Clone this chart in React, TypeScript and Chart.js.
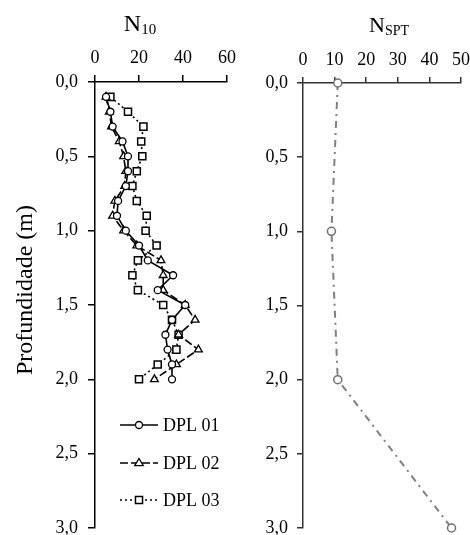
import React, { useEffect, useRef } from 'react';
import { Chart, registerables } from 'chart.js';
Chart.register(...registerables);

// ---- data ----
const depths = [0.1, 0.2, 0.3, 0.4, 0.5, 0.6, 0.7, 0.8, 0.9, 1.0, 1.1, 1.2, 1.3, 1.4, 1.5, 1.6, 1.7, 1.8, 1.9, 2.0];
const dpl01 = [5, 7, 8, 12.5, 15, 15, 14, 10.5, 10, 14, 20, 24, 35.5, 28.5, 41, 35, 32, 33, 35, 35];
const dpl02 = [5, 6.5, 7.5, 11, 13, 14, 13.5, 9, 8, 13, 19, 30, 31, 31, 41, 45.5, 38, 47, 37, 27];
const dpl03 = [7, 15, 22, 21, 21.5, 19, 17, 19, 23.5, 23, 28, 19.5, 17, 19.5, 31, 35, 38, 37, 28.5, 20];
const sptDepths = [0, 1, 2, 3];
const nspt = [11, 9, 11, 47];
const legendLabels = ['DPL 01', 'DPL 02', 'DPL 03'];
const yTitle = 'Profundidade (m)';

const FONT = "'Liberation Serif', 'Times New Roman', serif";

const fmtDepth = (v: any) => Number(v).toFixed(1).replace('.', ',');

function pts(xs: number[], ys: number[]) {
  return xs.map((x, i) => ({ x, y: ys[i] }));
}

function subTitlePlugin(main: string, sub: string, mainSize: number, subSize: number, cx: number, baseline: number) {
  return {
    id: 'subTitle',
    afterDraw(chart: any) {
      const ctx = chart.ctx;
      ctx.save();
      ctx.fillStyle = '#000';
      ctx.textBaseline = 'alphabetic';
      ctx.textAlign = 'left';
      ctx.font = `${mainSize}px ${FONT}`;
      const w1 = ctx.measureText(main).width;
      ctx.font = `${subSize}px ${FONT}`;
      const w2 = ctx.measureText(sub).width;
      const x0 = cx - (w1 + w2) / 2;
      ctx.font = `${mainSize}px ${FONT}`;
      ctx.fillText(main, x0, baseline);
      ctx.font = `${subSize}px ${FONT}`;
      ctx.fillText(sub, x0 + w1, baseline + 3);
      ctx.restore();
    },
  };
}

function drawMarker(ctx: CanvasRenderingContext2D, style: string, x: number, y: number, r: number) {
  ctx.beginPath();
  if (style === 'circle') {
    ctx.arc(x, y, r, 0, Math.PI * 2);
  } else if (style === 'triangle') {
    ctx.moveTo(x, y - r);
    ctx.lineTo(x + r * 0.95, y + r * 0.6);
    ctx.lineTo(x - r * 0.95, y + r * 0.6);
    ctx.closePath();
  } else {
    const s = r * Math.SQRT1_2;
    ctx.rect(x - s, y - s, 2 * s, 2 * s);
  }
  ctx.fillStyle = '#fff';
  ctx.fill();
  ctx.stroke();
}

const legendPlugin = {
  id: 'customLegend',
  afterDraw(chart: any) {
    const ctx = chart.ctx;
    const rows = [425, 463, 500];
    ctx.save();
    chart.data.datasets.forEach((ds: any, i: number) => {
      const y = rows[i];
      ctx.strokeStyle = '#000';
      ctx.lineWidth = ds.borderWidth;
      ctx.setLineDash(ds.borderDash || []);
      ctx.beginPath();
      ctx.moveTo(120, y);
      ctx.lineTo(158, y);
      ctx.stroke();
      ctx.setLineDash([]);
      ctx.lineWidth = ds.pointBorderWidth;
      drawMarker(ctx, ds.pointStyle, 139, y, ds.pointRadius);
      ctx.fillStyle = '#000';
      ctx.font = `18px ${FONT}`;
      ctx.textBaseline = 'middle';
      ctx.textAlign = 'left';
      ctx.fillText(legendLabels[i], 163, y + 1);
    });
    ctx.restore();
  },
};

const yTitlePlugin = {
  id: 'yTitle',
  afterDraw(chart: any) {
    const ctx = chart.ctx;
    ctx.save();
    ctx.translate(26, 290);
    ctx.rotate(-Math.PI / 2);
    ctx.fillStyle = '#000';
    ctx.font = `24px ${FONT}`;
    ctx.textAlign = 'center';
    ctx.textBaseline = 'middle';
    ctx.fillText(yTitle, 0, 0);
    ctx.restore();
  },
};

function axisCommon(tickLength: number, color: string) {
  return {
    grid: { display: true, drawOnChartArea: false, drawTicks: true, tickLength, color, lineWidth: 1.5 },
    border: { display: true, color, width: 1.5 },
  };
}

const fitY = (w: number) => (s: any) => {
  s.width = w;
  s.paddingTop = 0;
  s.paddingBottom = 0;
};
const fitX = (h: number) => (s: any) => {
  s.height = h;
  s.paddingLeft = 0;
  s.paddingRight = 0;
};

export default function App() {
  const leftRef = useRef<HTMLCanvasElement>(null);
  const rightRef = useRef<HTMLCanvasElement>(null);

  useEffect(() => {
    const left = new Chart(leftRef.current!, {
      type: 'scatter',
      data: {
        datasets: [
          {
            label: legendLabels[0],
            data: pts(dpl01, depths),
            showLine: true,
            borderColor: '#000',
            borderWidth: 1.6,
            pointStyle: 'circle',
            pointRadius: 3.5,
            pointBackgroundColor: '#fff',
            pointBorderColor: '#000',
            pointBorderWidth: 1.3,
          },
          {
            label: legendLabels[1],
            data: pts(dpl02, depths),
            showLine: true,
            borderColor: '#000',
            borderWidth: 1.6,
            borderDash: [8, 3],
            pointStyle: 'triangle',
            pointRadius: 4.5,
            pointBackgroundColor: '#fff',
            pointBorderColor: '#000',
            pointBorderWidth: 1.3,
          },
          {
            label: legendLabels[2],
            data: pts(dpl03, depths),
            showLine: true,
            borderColor: '#000',
            borderWidth: 1.6,
            borderDash: [2, 3],
            pointStyle: 'rect',
            pointRadius: 5,
            pointBackgroundColor: '#fff',
            pointBorderColor: '#000',
            pointBorderWidth: 1.5,
          },
        ],
      } as any,
      options: {
        responsive: false,
        animation: false,
        devicePixelRatio: 1,
        layout: { padding: { left: 0, right: 23, top: 0, bottom: 7 } },
        plugins: { legend: { display: false }, tooltip: { enabled: false } },
        scales: {
          x: {
            type: 'linear',
            position: 'top',
            min: 0,
            max: 60,
            ...axisCommon(7, '#000'),
            ticks: { color: '#000', font: { family: FONT, size: 18 }, padding: 6, stepSize: 20 },
            afterFit: fitX(82),
          },
          y: {
            type: 'linear',
            reverse: true,
            min: 0,
            max: 3,
            ...axisCommon(7, '#000'),
            ticks: { color: '#000', font: { family: FONT, size: 18 }, padding: 10, stepSize: 0.5, callback: fmtDepth },
            afterFit: fitY(95),
          },
        },
      } as any,
      plugins: [subTitlePlugin('N', '10', 24, 15, 140, 31), legendPlugin, yTitlePlugin],
    });

    const right = new Chart(rightRef.current!, {
      type: 'scatter',
      data: {
        datasets: [
          {
            label: 'NSPT',
            data: pts(nspt, sptDepths),
            showLine: true,
            borderColor: '#808080',
            borderWidth: 2,
            borderDash: [7, 5, 2, 5],
            pointStyle: 'circle',
            pointRadius: 4,
            pointBackgroundColor: '#fff',
            pointBorderColor: '#707070',
            pointBorderWidth: 1.5,
            clip: false,
          },
        ],
      } as any,
      options: {
        responsive: false,
        animation: false,
        devicePixelRatio: 1,
        layout: { padding: { left: 0, right: 9, top: 0, bottom: 7 } },
        plugins: { legend: { display: false }, tooltip: { enabled: false } },
        scales: {
          x: {
            type: 'linear',
            position: 'top',
            min: 0,
            max: 50,
            ...axisCommon(6, '#333'),
            ticks: { color: '#000', font: { family: FONT, size: 18 }, padding: 6, stepSize: 10 },
            afterFit: fitX(83),
          },
          y: {
            type: 'linear',
            reverse: true,
            min: 0,
            max: 3,
            ...axisCommon(6, '#333'),
            ticks: { color: '#000', font: { family: FONT, size: 18 }, padding: 9, stepSize: 0.5, callback: fmtDepth },
            afterFit: fitY(53),
          },
        },
      } as any,
      plugins: [subTitlePlugin('N', 'SPT', 22, 14, 139, 32)],
    });

    return () => {
      left.destroy();
      right.destroy();
    };
  }, []);

  return (
    <div style={{ position: 'absolute', left: 0, top: 0, width: 470, height: 535, background: '#fff' }}>
      <canvas ref={leftRef} width={250} height={535} style={{ position: 'absolute', left: 0, top: 0 }} />
      <canvas ref={rightRef} width={220} height={535} style={{ position: 'absolute', left: 250, top: 0 }} />
    </div>
  );
}
